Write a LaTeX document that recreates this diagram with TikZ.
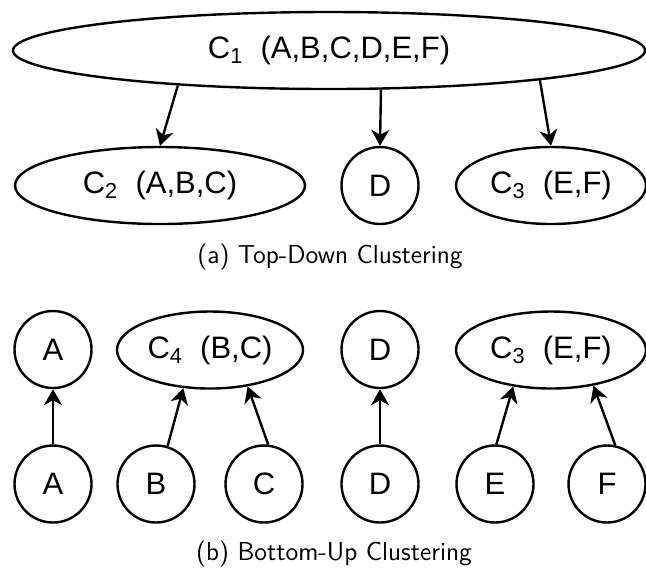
\documentclass[tikz,border=0pt]{standalone}
\usepackage{fontspec}
\newfontfamily\helv{Liberation Sans}
\usetikzlibrary{shapes.geometric,arrows.meta}
\tikzset{
	cluster/.style={draw, ellipse, line width=1.2pt, inner sep=0pt, minimum height=38.5pt, font=\helv\fontsize{15.5}{18}\selectfont},
	item/.style={draw, circle, line width=1.2pt, inner sep=0pt, minimum size=38.5pt, font=\helv\fontsize{15.5}{18}\selectfont},
	link/.style={line width=1.2pt, -{Stealth[length=8pt,width=9pt,inset=2.5pt]}},
	caption/.style={anchor=base, font=\sffamily\fontsize{13}{15}\selectfont}
}

\begin{document}
\begin{tikzpicture}[x=0.5pt, y=-0.5pt]
		%%%%% START %%%%%
		\useasboundingbox (0, 0) rectangle (646, 570);
		
		% top-down
		\node[cluster, minimum width=316pt] (c1) at (329, 50.5) {C\textsubscript{1}~~(A,B,C,D,E,F)};
		
		\node[cluster, minimum width=145pt] (c2) at (160, 185.5) {C\textsubscript{2}~~(A,B,C)};
		\node[item] (dsplit) at (380, 185.5) {D};
		\node[cluster, minimum width=95pt] (c3) at (551, 185.5) {C\textsubscript{3}~~(E,F)};
		
		\draw[link] (c1.193) -- (c2.north);
		\draw[link] (c1.323) -- (dsplit.north);
		\draw[link] (c1.352) -- (c3.north);
		
		\node[caption] (capa) at (330, 263) {(a) Top-Down Clustering};
		
		% bottom-up
		\node[item] (amerge) at (53, 349.5) {A};
		\node[cluster, minimum width=93pt] (c4) at (210, 350) {C\textsubscript{4}~~(B,C)};
		\node[item] (dmerge) at (380, 349.5) {D};
		\node[cluster, minimum width=95pt] (c3b) at (551, 350) {C\textsubscript{3}~~(E,F)};
		
		\node[item] (a) at (53, 484) {A};
		\node[item] (b) at (156, 484) {B};
		\node[item] (c) at (264, 484) {C};
		\node[item] (d) at (380, 484) {D};
		\node[item] (e) at (495, 484) {E};
		\node[item] (f) at (607, 484) {F};
		
		\draw[link] (a.north) -- (amerge.south);
		\draw[link] (b.73) -- (c4.235);
		\draw[link] (c.84) -- (c4.316);
		\draw[link] (d.north) -- (dmerge.south);
		\draw[link] (e.88) -- (c3b.224);
		\draw[link] (f.78) -- (c3b.320);
		
		\node[caption] (capb) at (334, 560) {(b) Bottom-Up Clustering};
		
		%%%%% END %%%%%
	\end{tikzpicture}
\end{document}
